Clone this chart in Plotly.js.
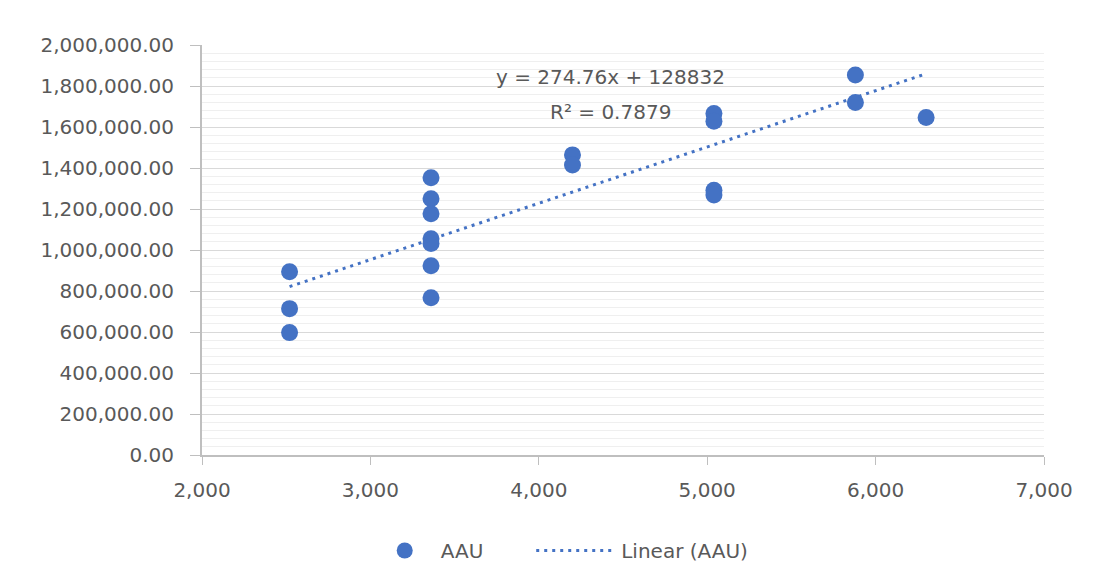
<!DOCTYPE html>
<html>
<head>
<meta charset="utf-8">
<script src="https://cdn.plot.ly/plotly-3.0.1.min.js"></script>
<style>
  html, body { margin: 0; padding: 0; background: #ffffff; }
  #chart { width: 1096px; height: 587px; }
</style>
</head>
<body>
<div id="chart"></div>
<script>
// ---- data ----
const seriesName = "AAU";
const trendName = "Linear (AAU)";
const xValues = [2520, 2520, 2520,
                 3360, 3360, 3360, 3360, 3360, 3360, 3360,
                 4200, 4200,
                 5040, 5040, 5040, 5040,
                 5880, 5880,
                 6300];
const yValues = [894000, 714000, 597000,
                 1352000, 1250000, 1177000, 1055000, 1032000, 923000, 767000,
                 1464000, 1415000,
                 1666000, 1628000, 1292000, 1268000,
                 1854000, 1719000,
                 1646000];
// trendline as stated on the chart
const trendSlope = 274.76;
const trendIntercept = 128832;
const trendLabel = "y = 274.76x + 128832";
const r2Label = "R² = 0.7879";
const xTickVals = [2000, 3000, 4000, 5000, 6000, 7000];
const yTickVals = [0, 200000, 400000, 600000, 800000, 1000000, 1200000, 1400000, 1600000, 1800000, 2000000];

const blue = "#4472C4";
const textGray = "#595959";
const font = "DejaVu Sans, sans-serif";
const fs = 20;

const xMin = Math.min(...xValues), xMax = Math.max(...xValues);
const trendX = [xMin, xMax];
const trendY = trendX.map(x => trendSlope * x + trendIntercept);

const traces = [
  {
    type: "scatter", mode: "markers", name: seriesName,
    x: xValues, y: yValues,
    marker: { color: blue, size: 17 },
    legend: "legend",
    hoverinfo: "x+y"
  },
  {
    type: "scatter", mode: "lines", name: trendName,
    x: trendX, y: trendY,
    line: { color: blue, width: 3, dash: "3px,5px" },
    legend: "legend2",
    hoverinfo: "skip"
  }
];

const layout = {
  width: 1096, height: 587,
  margin: { l: 202, r: 52, t: 45, b: 131.5 },
  paper_bgcolor: "#ffffff", plot_bgcolor: "#ffffff",
  font: { family: font, size: fs, color: textGray },
  showlegend: true,
  xaxis: {
    range: [2000, 7000],
    tickvals: xTickVals,
    tickformat: ",",
    showgrid: false,
    zeroline: false,
    showline: true, linecolor: "#bfbfbf", linewidth: 2,
    ticks: "outside", ticklen: 8, tickcolor: "#bfbfbf", tickwidth: 1,
    ticklabelstandoff: 8,
    tickfont: { family: font, size: fs, color: textGray },
    fixedrange: true
  },
  yaxis: {
    range: [0, 2000000],
    tickvals: yTickVals,
    tickformat: ",.2f",
    showgrid: true, gridcolor: "#d9d9d9", gridwidth: 1,
    minor: { dtick: 40000, showgrid: true, gridcolor: "#efefef", gridwidth: 1 },
    zeroline: false,
    showline: true, linecolor: "#bfbfbf", linewidth: 2,
    ticks: "outside", ticklen: 10, tickcolor: "#bfbfbf", tickwidth: 1,
    ticklabelstandoff: 12,
    tickfont: { family: font, size: fs, color: textGray },
    fixedrange: true
  },
  legend: {
    orientation: "h",
    x: 0.198, xanchor: "left",
    y: -0.233, yanchor: "middle",
    font: { family: font, size: fs, color: textGray },
    itemwidth: 62,
    bgcolor: "rgba(0,0,0,0)"
  },
  legend2: {
    orientation: "h",
    x: 0.391, xanchor: "left",
    y: -0.233, yanchor: "middle",
    font: { family: font, size: fs, color: textGray },
    itemwidth: 80,
    bgcolor: "rgba(0,0,0,0)"
  },
  annotations: [
    {
      x: 4426, y: 1846000, xref: "x", yref: "y",
      text: trendLabel, showarrow: false,
      xanchor: "center", yanchor: "middle",
      font: { family: font, size: fs, color: textGray }
    },
    {
      x: 4426, y: 1672000, xref: "x", yref: "y",
      text: r2Label, showarrow: false,
      xanchor: "center", yanchor: "middle",
      font: { family: font, size: fs, color: textGray }
    }
  ]
};

Plotly.newPlot("chart", traces, layout, { displayModeBar: false, staticPlot: true });
</script>
</body>
</html>
